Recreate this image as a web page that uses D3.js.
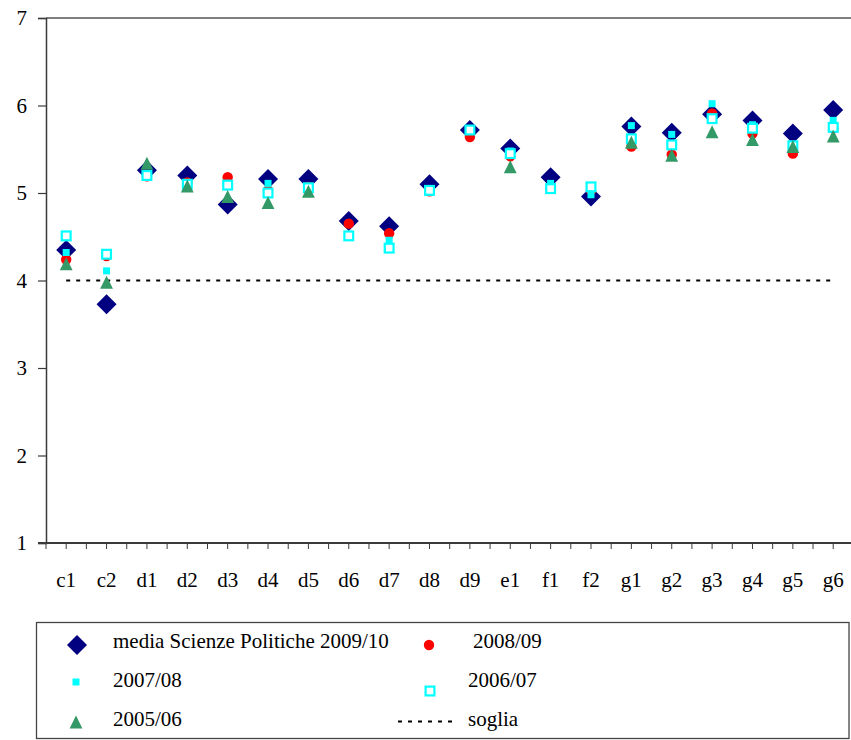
<!DOCTYPE html>
<html><head><meta charset="utf-8">
<script src="https://cdn.jsdelivr.net/npm/d3@7"></script>
<style>body{margin:0;background:#fff}svg{display:block}svg text{font-family:"Liberation Serif","DejaVu Serif",serif !important;fill:#000}</style>
</head><body>
<svg id="c" width="851" height="740"></svg>
<script>
const categories = ["c1","c2","d1","d2","d3","d4","d5","d6","d7","d8","d9","e1","f1","f2","g1","g2","g3","g4","g5","g6"];
const media0910 = [4.35,3.73,5.26,5.20,4.87,5.16,5.16,4.68,4.62,5.10,5.72,5.51,5.18,4.96,5.76,5.69,5.90,5.83,5.68,5.95];
const val0809 = [4.24,4.28,5.19,5.12,5.18,5.03,5.07,4.65,4.54,5.02,5.64,5.42,5.05,5.03,5.53,5.44,5.91,5.68,5.45,5.74];
const val0708 = [4.32,4.11,5.22,5.10,5.11,5.11,5.07,4.52,4.46,5.04,5.72,5.48,5.11,4.98,5.77,5.67,6.02,5.78,5.53,5.83];
const val0607 = [4.51,4.30,5.20,5.10,5.09,5.00,5.06,4.51,4.37,5.03,5.72,5.45,5.05,5.07,5.62,5.55,5.85,5.74,5.54,5.75];
const val0506 = [4.19,3.98,5.34,5.08,4.96,4.89,5.02,null,null,null,null,5.30,null,null,5.58,5.43,5.70,5.61,5.53,5.65];
const soglia = 4;
const yTicks = [1,2,3,4,5,6,7];
const legendLabels = ["media Scienze Politiche 2009/10","2008/09","2007/08","2006/07","2005/06","soglia"];

const FONT = '"Liberation Serif","DejaVu Serif",serif';
const svg = d3.select("#c");
const x = d3.scaleBand().domain(categories).range([46, 853.4]).paddingInner(0).paddingOuter(0);
const y = d3.scaleLinear().domain([1,7]).range([543, 18]);
const cx = c => x(c) + x.bandwidth()/2;
const axisCol = "#3a3a3a";

// top border
svg.append("line").attr("x1",46).attr("x2",851).attr("y1",y(7)).attr("y2",y(7)).attr("stroke","#555").attr("stroke-width",1.5);

// y axis
const yAxis = d3.axisLeft(y).tickValues(yTicks).tickSize(8).tickPadding(11).tickFormat(d3.format("d"));
const gy = svg.append("g").attr("transform","translate(46,0)").call(yAxis).attr("font-family",FONT).attr("font-size",21);
gy.select(".domain").attr("stroke",axisCol).attr("stroke-width",1.5);
gy.selectAll(".tick line").attr("stroke",axisCol).attr("stroke-width",1.2);
gy.selectAll(".tick text").attr("fill","#000");

// x axis with ticks at centres and band edges
const halfTicks = [];
categories.forEach(c => { halfTicks.push(x(c)); halfTicks.push(cx(c)); });
halfTicks.push(x(categories[categories.length-1]) + x.bandwidth());
const gx = svg.append("g").attr("transform","translate(0,543)");
gx.append("line").attr("x1",38).attr("x2",853.4).attr("stroke",axisCol).attr("stroke-width",2);
gx.selectAll("line.t").data(halfTicks).join("line").attr("class","t")
  .attr("x1",d=>d).attr("x2",d=>d).attr("y1",0).attr("y2",6).attr("stroke",axisCol).attr("stroke-width",1);
gx.selectAll("text").data(categories).join("text")
  .attr("x",d=>cx(d)).attr("y",44).attr("text-anchor","middle").attr("font-family",FONT).attr("font-size",21).text(d=>d);

// soglia line
svg.append("line").attr("x1",cx(categories[0])).attr("x2",cx(categories[categories.length-1]))
  .attr("y1",y(soglia)).attr("y2",y(soglia)).attr("stroke","#000").attr("stroke-width",2).attr("stroke-dasharray","4,6");

// marker generators
function diamond(g, px, py){ g.append("path").attr("d",`M${px},${py-10}L${px+10},${py}L${px},${py+10}L${px-10},${py}Z`).attr("fill","#000080"); }
function circle(g, px, py){ g.append("circle").attr("cx",px).attr("cy",py).attr("r",5.2).attr("fill","#ff0000"); }
function smallSq(g, px, py){ g.append("rect").attr("x",px-3.5).attr("y",py-3.5).attr("width",7).attr("height",7).attr("fill","#00ffff"); }
function openSq(g, px, py){ g.append("rect").attr("x",px-4.4).attr("y",py-4.4).attr("width",8.8).attr("height",8.8).attr("fill","#fff").attr("stroke","#00ffff").attr("stroke-width",2.2); }
function tri(g, px, py){ g.append("path").attr("d",`M${px},${py-6.4}L${px+6.4},${py+6.4}L${px-6.4},${py+6.4}Z`).attr("fill","#339966"); }

const series = [
  {vals: media0910, fn: diamond},
  {vals: val0809, fn: circle},
  {vals: val0708, fn: smallSq},
  {vals: val0607, fn: openSq},
  {vals: val0506, fn: tri}
];
const mg = svg.append("g");
series.forEach(s => {
  const g = mg.append("g");
  categories.forEach((c,i) => { if (s.vals[i] != null) s.fn(g, cx(c), y(s.vals[i])); });
});

// legend
const lg = svg.append("g").attr("font-family",FONT).attr("font-size",21);
lg.append("rect").attr("x",36.5).attr("y",622.5).attr("width",812.5).attr("height",116).attr("fill","#fff").attr("stroke","#444").attr("stroke-width",1.3);
diamond(lg, 77, 645);
lg.append("text").attr("x",113).attr("y",648).text(legendLabels[0]);
circle(lg, 429, 645);
lg.append("text").attr("x",473).attr("y",648).text(legendLabels[1]);
smallSq(lg, 76, 682);
lg.append("text").attr("x",113).attr("y",687).text(legendLabels[2]);
openSq(lg, 430, 691);
lg.append("text").attr("x",468).attr("y",687).text(legendLabels[3]);
tri(lg, 76, 722);
lg.append("text").attr("x",113).attr("y",726).text(legendLabels[4]);
lg.append("line").attr("x1",398).attr("x2",458).attr("y1",721.5).attr("y2",721.5).attr("stroke","#000").attr("stroke-width",2).attr("stroke-dasharray","4,6");
lg.append("text").attr("x",468).attr("y",726).text(legendLabels[5]);
</script>
</body></html>
